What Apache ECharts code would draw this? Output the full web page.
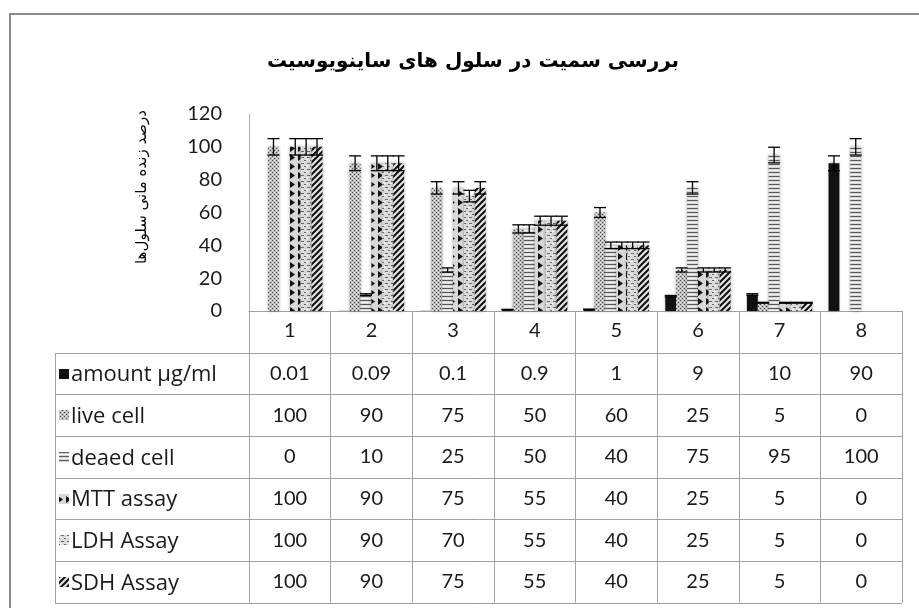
<!DOCTYPE html>
<html><head><meta charset="utf-8">
<script src="https://cdn.jsdelivr.net/npm/echarts@6.0.0/dist/echarts.min.js"></script>
<style>html,body{margin:0;padding:0;background:#fff}#c{width:919px;height:608px}</style>
</head><body><div id="c"></div>
<script>
// ---- data ----
const categories = ['1', '2', '3', '4', '5', '6', '7', '8'];
const amount   = [0.01, 0.09, 0.1, 0.9, 1, 9, 10, 90];
const liveCell = [100, 90, 75, 50, 60, 25, 5, 0];
const deadCell = [0, 10, 25, 50, 40, 75, 95, 100];
const mttAssay = [100, 90, 75, 55, 40, 25, 5, 0];
const ldhAssay = [100, 90, 70, 55, 40, 25, 5, 0];
const sdhAssay = [100, 90, 75, 55, 40, 25, 5, 0];
const seriesNames = ['amount µg/ml', 'live cell', 'deaed cell', 'MTT assay', 'LDH Assay', 'SDH Assay'];
const yMin = 0, yMax = 120, yStep = 20;
const errorPercent = 5;
const titleText = 'بررسی سمیت در سلول های ساینویوسیت';
const yAxisTitle = 'درصد زنده مانی سلول‌ها';

const seriesData = [amount, liveCell, deadCell, mttAssay, ldhAssay, sdhAssay];

// ---- patterns ----
function makeTile(w, h, draw) {
  const c = document.createElement('canvas');
  c.width = w; c.height = h;
  const g = c.getContext('2d');
  draw(g, w, h);
  return c;
}
const tiles = [
  null,
  makeTile(4, 4, g => { g.fillStyle = '#bcbcbc'; g.fillRect(0,0,4,4); g.fillStyle = '#4a4a4a'; g.fillRect(0,0,1,1); g.fillRect(2,2,1,1); g.fillStyle = '#f4f4f4'; g.fillRect(2,0,1,1); g.fillRect(0,2,1,1); }),
  makeTile(4, 4, g => { g.fillStyle = '#d6d6d6'; g.fillRect(0,0,4,4); g.fillStyle = '#5a5a5a'; g.fillRect(0,0,4,1); g.fillStyle = '#f2f2f2'; g.fillRect(0,2,4,1); }),
  makeTile(8, 9, g => { g.fillStyle = '#d8d8d8'; g.fillRect(0,0,8,9); g.fillStyle = '#111'; g.beginPath(); g.moveTo(2,1); g.lineTo(7,4.5); g.lineTo(2,8); g.closePath(); g.fill(); }),
  makeTile(6, 6, g => { g.fillStyle = '#dadada'; g.fillRect(0,0,6,6); g.fillStyle = '#6a6a6a'; g.fillRect(1,1,3,1); g.fillRect(4,4,2,1); g.fillStyle = '#f5f5f5'; g.fillRect(0,3,2,1); }),
  makeTile(6, 6, g => { g.fillStyle = '#e2e2e2'; g.fillRect(0,0,6,6); g.strokeStyle = '#111'; g.lineWidth = 2; g.beginPath(); g.moveTo(-1,7); g.lineTo(7,-1); g.moveTo(-1,1); g.lineTo(1,-1); g.moveTo(5,7); g.lineTo(7,5); g.stroke(); })
];
function fillFor(i) { return i === 0 ? '#111111' : { image: tiles[i], repeat: 'repeat' }; }

const FONT = 'Lato, "Noto Sans", sans-serif';
const LABEL_FONT = '"Open Sans", Lato, sans-serif';
const FA_FONT = '"DejaVu Sans", sans-serif';
const GRID = { left: 249, right: 17, top: 114, bottom: 297 };
const gridBottomY = 608 - GRID.bottom;     // 311
const rowH = 41.67;
const tableTop = gridBottomY + rowH;
const tableBottom = gridBottomY + rowH * 7;
const labelColLeft = 55;
const gridRightX = 919 - GRID.right;

const chart = echarts.init(document.getElementById('c'), null, { renderer: 'canvas' });

const barSeries = seriesNames.map((n, i) => ({
  type: 'bar', name: n, data: seriesData[i],
  barGap: '0%', barCategoryGap: '20%',
  itemStyle: { color: fillFor(i), shadowBlur: 3, shadowColor: 'rgba(0,0,0,0.35)' },
  z: 2
}));

const errSeries = seriesNames.map((n, i) => ({
  type: 'custom', name: n + ' err', z: 5, silent: true,
  data: seriesData[i].map((v, k) => [k, v]),
  renderItem: (params, api) => {
    const idx = api.value(0), v = api.value(1);
    const yT = api.coord([idx, v * (1 + errorPercent / 100)])[1];
    const yB = api.coord([idx, v * (1 - errorPercent / 100)])[1];
    const y0 = api.coord([idx, 0])[1];
    if (!v || y0 - yT < 0.8) return null;   // hidden by the axis line
    const bw = api.size([1, 0])[0];
    const barW = bw * 0.8 / seriesNames.length;
    const cx = api.coord([idx, 0])[0] - 0.4 * bw + barW * (i + 0.5);
    const hw = 6;
    const st = { stroke: '#000', lineWidth: 1.3 };
    return { type: 'group', children: [
      { type: 'line', shape: { x1: cx, y1: yT, x2: cx, y2: yB }, style: st },
      { type: 'line', shape: { x1: cx - hw, y1: yT, x2: cx + hw, y2: yT }, style: st },
      { type: 'line', shape: { x1: cx - hw, y1: yB, x2: cx + hw, y2: yB }, style: st }
    ]};
  }
}));

chart.setOption({
  backgroundColor: '#ffffff',
  animation: false,
  grid: GRID,
  xAxis: {
    type: 'category', data: categories,
    axisLine: { lineStyle: { color: '#a0a0a0', width: 1 } },
    axisTick: { show: true, length: rowH * 7, lineStyle: { color: '#a0a0a0' } },
    axisLabel: { fontSize: 20, color: '#1a1a1a', fontFamily: FONT, margin: 10 }
  },
  yAxis: {
    type: 'value', min: yMin, max: yMax, interval: yStep,
    axisLine: { show: true, lineStyle: { color: '#b0b0b0' } },
    axisTick: { show: false },
    splitLine: { show: false },
    axisLabel: { fontSize: 20, color: '#1a1a1a', fontFamily: FONT, margin: 27 }
  },
  series: barSeries.concat(errSeries)
});

// ---- table & decorations ----
const g = [];
g.push({ type: 'rect', shape: { x: 10, y: 14, width: 1000, height: 800 }, style: { fill: 'none', stroke: '#8a8a8a', lineWidth: 2 }, silent: true });
g.push({ type: 'text', x: 473, y: 62, style: { text: titleText, font: 'bold 20px ' + FA_FONT, fill: '#000', align: 'center', verticalAlign: 'middle' } });
g.push({ type: 'text', x: 142, y: 187, rotation: Math.PI / 2, style: { text: yAxisTitle, font: '15px ' + FA_FONT, fill: '#000', align: 'center', verticalAlign: 'middle' } });
for (let r = 0; r <= 6; r++) {
  const y = Math.round(tableTop + r * rowH) + 0.5;
  g.push({ type: 'line', shape: { x1: labelColLeft, y1: y, x2: gridRightX, y2: y }, style: { stroke: '#a0a0a0', lineWidth: 1 }, silent: true });
}
g.push({ type: 'line', shape: { x1: labelColLeft + 0.5, y1: Math.round(tableTop) + 0.5, x2: labelColLeft + 0.5, y2: Math.round(tableBottom) + 0.5 }, style: { stroke: '#a0a0a0', lineWidth: 1 }, silent: true });
seriesNames.forEach((n, i) => {
  const cy = tableTop + rowH * (i + 0.5);
  g.push({ type: 'rect', shape: { x: 59, y: Math.round(cy - 5), width: 10, height: 10 }, style: { fill: i === 0 ? '#111' : { image: tiles[i], repeat: 'repeat' } } });
  g.push({ type: 'text', x: 71, y: cy + 1.5, style: { text: n, font: '22px ' + LABEL_FONT, fill: '#1a1a1a', align: 'left', verticalAlign: 'middle' } });
  seriesData[i].forEach((v, k) => {
    const cx = chart.convertToPixel({ xAxisIndex: 0 }, k);
    g.push({ type: 'text', x: cx, y: cy, style: { text: String(v), font: '20px ' + FONT, fill: '#1a1a1a', align: 'center', verticalAlign: 'middle' } });
  });
});
chart.setOption({ graphic: { elements: g } });
</script></body></html>
